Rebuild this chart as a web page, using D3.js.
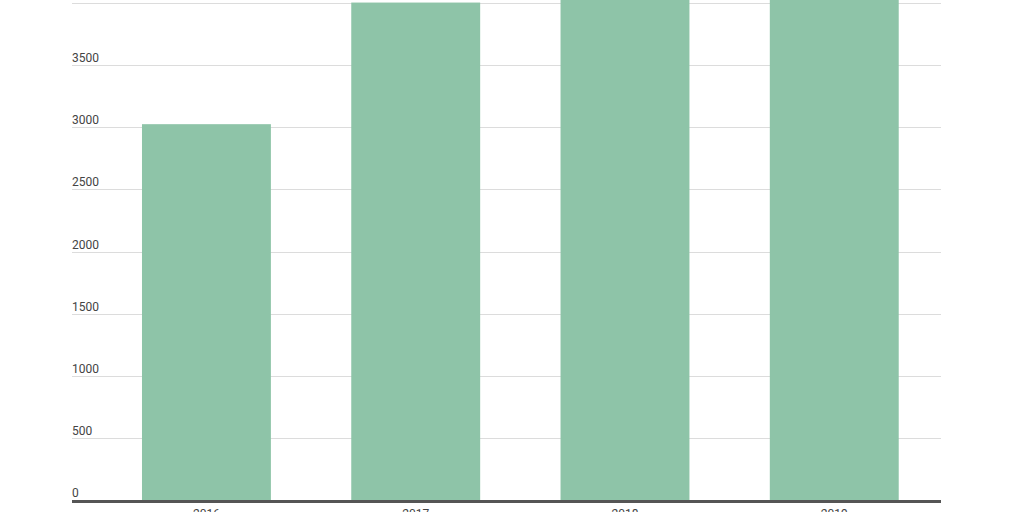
<!DOCTYPE html>
<html>
<head>
<meta charset="utf-8">
<script src="https://cdn.jsdelivr.net/npm/d3@7"></script>
<style>
  html, body { margin: 0; padding: 0; background: #fff; }
  svg { display: block; font-family: Roboto, "Noto Sans", sans-serif; }
</style>
</head>
<body>
<svg id="chart" width="1024" height="512"></svg>
<script>
const categories = ["2016", "2017", "2018", "2019"];
const values = [3030, 4010, 4100, 4120];
const yTicks = [0, 500, 1000, 1500, 2000, 2500, 3000, 3500, 4000];

const svg = d3.select("#chart");
const left = 72, right = 941;

const y = d3.scaleLinear().domain([0, 4000]).range([500.2, 3.8]);
const x = d3.scaleBand().domain(categories).range([101.8, 938.9])
  .paddingInner(0.384).paddingOuter(0.192);

// gridlines
svg.append("g").selectAll("line").data(yTicks.filter(d => d > 0)).join("line")
  .attr("x1", left).attr("x2", right)
  .attr("y1", d => Math.floor(y(d)) + 0.5).attr("y2", d => Math.floor(y(d)) + 0.5)
  .attr("stroke", "#dcdcdc").attr("stroke-width", 1);

// y labels
svg.append("g").selectAll("text").data(yTicks).join("text")
  .attr("x", left).attr("y", d => y(d) - 3.5)
  .attr("font-size", 12).attr("fill", "#444")
  .text(d => d);

// bars
svg.append("g").selectAll("rect").data(categories).join("rect")
  .attr("x", d => x(d))
  .attr("width", x.bandwidth())
  .attr("y", (d, i) => y(values[i]))
  .attr("height", (d, i) => y(0) - y(values[i]))
  .attr("fill", "#8ec4a8");

// baseline axis
svg.append("line")
  .attr("x1", left).attr("x2", right)
  .attr("y1", y(0) + 1.3).attr("y2", y(0) + 1.3)
  .attr("stroke", "#555").attr("stroke-width", 3);

// x labels
svg.append("g").selectAll("text").data(categories).join("text")
  .attr("x", d => x(d) + x.bandwidth() / 2)
  .attr("y", 518)
  .attr("text-anchor", "middle")
  .attr("font-size", 12).attr("fill", "#444")
  .text(d => d);
</script>
</body>
</html>
